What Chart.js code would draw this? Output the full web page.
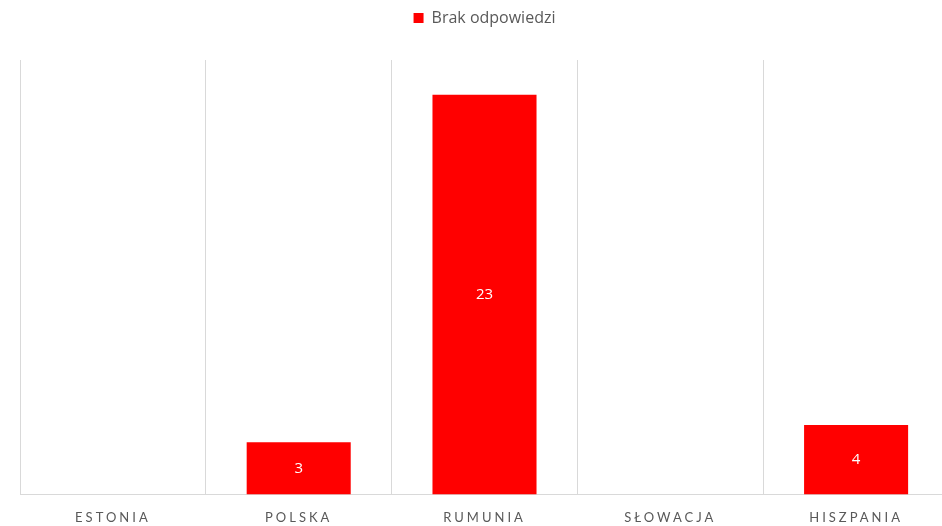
<!DOCTYPE html>
<html>
<head>
<meta charset="utf-8">
<script src="https://cdn.jsdelivr.net/npm/chart.js@4.4.1/dist/chart.umd.min.js"></script>
<style>
  html, body { margin: 0; padding: 0; background: #fff; overflow: hidden; }
  #wrap { position: relative; width: 950px; height: 542px; }
</style>
</head>
<body>
<div id="wrap"><canvas id="chart"></canvas></div>
<script>
// Chart data
const categories = ['ESTONIA', 'POLSKA', 'RUMUNIA', 'SŁOWACJA', 'HISZPANIA'];
const seriesName = 'Brak odpowiedzi';
const values = [null, 3, 23, null, 4];

const FONT = 'Lato, "Open Sans", sans-serif';

// extra room under the legend
const legendGap = {
  id: 'legendGap',
  beforeInit(chart) {
    const fit = chart.legend.fit;
    chart.legend.fit = function() {
      fit.call(this);
      this.height += 24;
    };
  }
};

// white value labels in the middle of each bar, then letter spacing for the x labels
const barLabels = {
  id: 'barLabels',
  afterDatasetsDraw(chart) {
    const ctx = chart.ctx;
    const meta = chart.getDatasetMeta(0);
    ctx.save();
    ctx.fillStyle = '#ffffff';
    ctx.font = '15px "Open Sans", sans-serif';
    ctx.textAlign = 'center';
    ctx.textBaseline = 'middle';
    meta.data.forEach(function(bar, i) {
      if (values[i] == null) return;
      ctx.fillText(String(values[i]), bar.x, (bar.y + bar.base) / 2);
    });
    ctx.restore();
    if ('letterSpacing' in ctx) ctx.letterSpacing = '3px';
  },
  afterDraw(chart) {
    if ('letterSpacing' in chart.ctx) chart.ctx.letterSpacing = '0px';
  }
};

new Chart(document.getElementById('chart'), {
  type: 'bar',
  data: {
    labels: categories,
    datasets: [{
      label: seriesName,
      data: values,
      backgroundColor: '#ff0000',
      borderWidth: 0,
      barPercentage: 0.56,
      categoryPercentage: 1.0
    }]
  },
  options: {
    responsive: true,
    maintainAspectRatio: false,
    animation: false,
    layout: { padding: { left: 20, right: 1, top: 0, bottom: 0 } },
    plugins: {
      legend: {
        position: 'top',
        labels: {
          boxWidth: 10,
          boxHeight: 10,
          color: '#595959',
          font: { family: '"Open Sans", sans-serif', size: 16 },
          padding: 10
        }
      },
      tooltip: { enabled: false }
    },
    scales: {
      x: {
        grid: { color: '#d9d9d9', lineWidth: 1, drawTicks: false, offset: true },
        border: { color: '#d9d9d9' },
        ticks: {
          z: 1,
          color: '#595959',
          font: { family: FONT, size: 13 },
          padding: 16
        }
      },
      y: {
        display: false,
        min: 0,
        max: 25
      }
    }
  },
  plugins: [legendGap, barLabels]
});
</script>
</body>
</html>
